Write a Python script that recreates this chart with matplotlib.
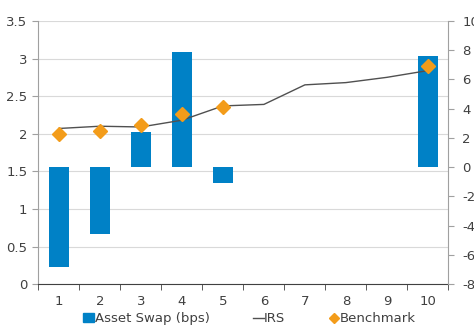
import matplotlib
matplotlib.use("Agg")
import matplotlib.pyplot as plt
from matplotlib.lines import Line2D
from matplotlib.patches import Patch
import numpy as np

# data
maturity = [1, 2, 3, 4, 5, 6, 7, 8, 9, 10]
asset_swap = [-6.8, -4.6, 2.4, 7.9, -1.1, 0, 0, 0, 0, 7.6]   # bps, right axis
irs = [2.07, 2.10, 2.09, 2.18, 2.37, 2.39, 2.65, 2.68, 2.75, 2.84]
bench_x = [1, 2, 3, 4, 5, 10]
benchmark = [2.00, 2.04, 2.11, 2.26, 2.35, 2.90]

blue = "#0081C6"
orange = "#F39C1A"
txt = "#404040"
plt.rcParams["font.family"] = ["DejaVu Sans"]
plt.rcParams["font.size"] = 9.5
plt.rcParams["axes.unicode_minus"] = False

fig = plt.figure(figsize=(4.74, 3.27), dpi=100)
ax = fig.add_axes([0.081, 0.131, 0.865, 0.805])

# left axis: grid + ticks
ax.set_xlim(0.5, 10.5)
ax.set_ylim(0, 3.5)
ax.set_yticks(np.arange(0, 3.51, 0.5))
ax.set_yticklabels(["0", "0.5", "1", "1.5", "2", "2.5", "3", "3.5"])
ax.yaxis.grid(True, color="#D9D9D9", lw=0.8)
ax.set_axisbelow(True)
ax.set_xticks(maturity)
ax.set_xticklabels([str(m) for m in maturity])
ax.set_xticks(np.arange(0.5, 10.6, 1), minor=True)
ax.tick_params(axis="x", which="major", length=0, pad=8, colors=txt)
ax.tick_params(axis="x", which="minor", length=4, color="#404040", direction="out")
ax.tick_params(axis="y", length=4, color="#A0A0A0", colors=txt, pad=4)
for s in ("top", "right"):
    ax.spines[s].set_visible(False)
ax.spines["left"].set_color("#A0A0A0")
ax.spines["bottom"].set_color("#404040")

# right axis: asset swap bars
ax2 = ax.twinx()
ax2.bar(maturity, asset_swap, width=0.49, color=blue, zorder=2)
ax2.set_ylim(-8, 10)
ax2.set_yticks(np.arange(-8, 10.1, 2))
ax2.tick_params(axis="y", length=4, color="#A0A0A0", colors=txt, pad=6)
for s in ("top", "left", "bottom"):
    ax2.spines[s].set_visible(False)
ax2.spines["right"].set_color("#A0A0A0")

# top layer: IRS line and benchmark diamonds on left scale
ax3 = ax.twinx()
ax3.set_ylim(ax.get_ylim())
ax3.axis("off")
ax3.plot(maturity, irs, color="#505050", lw=1.0, zorder=3)
ax3.plot(bench_x, benchmark, ls="none", marker="D", ms=7.5, color=orange,
         markeredgecolor=orange, zorder=4)

handles = [
    Patch(facecolor=blue, edgecolor=blue),
    Line2D([], [], color="#505050", lw=1.0),
    Line2D([], [], ls="none", marker="D", ms=5, color=orange),
]
fig.legend(handles, ["Asset Swap (bps)", "IRS", "Benchmark"], ncol=3,
           loc="center", bbox_to_anchor=(0.527, 0.025), frameon=False,
           handlelength=0.8, handletextpad=0.05, columnspacing=3.3,
           fontsize=9.5, labelcolor=txt)

fig.savefig("out.png", dpi=100)
